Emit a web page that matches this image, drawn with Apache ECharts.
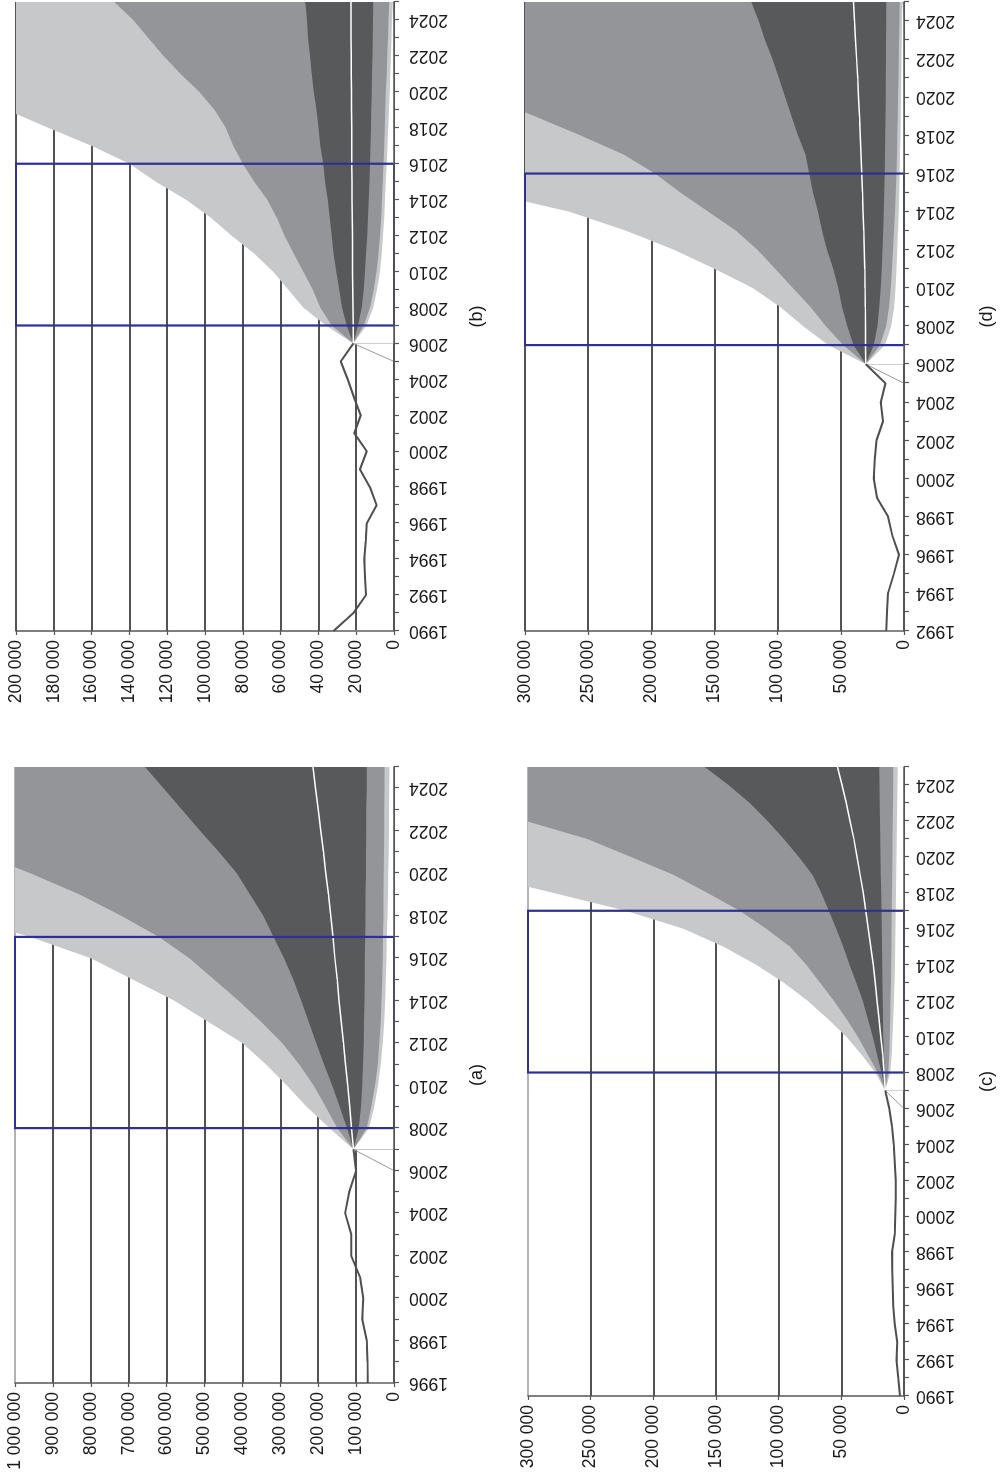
<!DOCTYPE html>
<html><head><meta charset="utf-8">
<script src="https://cdn.jsdelivr.net/npm/echarts@6.0.0/dist/echarts.min.js"></script>
<style>
html,body{margin:0;padding:0;background:#fff;overflow:hidden;width:1006px;height:1477px}
#wrap{position:absolute;left:0;top:0;width:1477px;height:1006px;transform-origin:0 0;transform:translateY(1477px) rotate(-90deg);background:#fff}
</style></head><body><div id="wrap"></div>
<script>
// values in thousands
// ---- Panel (a)
const aHistYears = [1996,1997,1998,1999,2000,2001,2002,2003,2004,2005,2006,2007];
const aHist = [69,70,72,84,81,90,113,113,129,118,100,107];
const aFanYears = [2007,2008,2009,2010,2011,2012,2013,2014,2015,2016,2017,2018,2019,2020,2021,2022,2023,2024,2025];
const aUpper3 = [107,170,230,282,338,400,490,580,690,800,960,1150,1350,1550,1750,1950,2150,2350,2550];
const aUpper2 = [107,150,180,212,250,295,350,410,475,540,620,720,830,960,1100,1250,1400,1550,1700];
const aUpper1 = [107,124,143,163,185,205,225,245,266,290,318,345,380,415,462,512,560,608,657];
const aMedian = [107,112,117,122,128,133,139,145,150,156,161,167,173,180,186,193,200,207,214];
const aLower1 = [107,93,87,84,82,80,79,78,77.5,77,76,75.5,75,74,74,73,73,72,72];
const aLower2 = [107,72,60,50,43,39,35,33,31,30,29,28,27.5,27,26.5,26,25.5,25,25];
const aLower3 = [107,66,52,42,35,30,26,23,21.5,20,19,17,16,15,14,13.5,13,12.5,12];
const aBox = [2008, 2017];
// ---- Panel (b)
const bHistYears = [1990,1991,1992,1993,1994,1995,1996,1997,1998,1999,2000,2001,2002,2003,2004,2005,2006];
const bHist = [32,21.5,14.8,15.3,15.7,15,14.4,9.2,12.7,18,14.4,21,17.6,21.2,24.5,28.2,21.5];
const bFanYears = [2006,2007,2008,2009,2010,2011,2012,2013,2014,2015,2016,2017,2018,2019,2020,2021,2022,2023,2024,2025];
const bUpper3 = [21.5,36,48,56,64,74,86,97,110,126,140,160,183,205,230,255,280,305,330,355];
const bUpper2 = [21.5,33,39,43,48,53,58,62,67,74,80,85,89,95,103,113,122,130,138,148];
const bUpper1 = [21.5,25,27.5,29,30.5,32,33,34,35,36.5,37.5,39,40,41,42.5,43.5,44.5,45.5,46,47];
const bMedian = [21.5,21.6,21.7,21.8,21.9,22,22,22.1,22.2,22.2,22.3,22.4,22.4,22.5,22.5,22.6,22.6,22.7,22.7,22.8];
const bLower1 = [21.5,19,17,16,15.3,14.8,14.2,13.8,13.3,13,12.7,12.4,12.2,12,11.8,11.6,11.4,11.3,11.1,11];
const bLower2 = [21.5,16,12.7,10.7,9.2,8.2,7.4,6.8,6.3,5.9,5.6,5.2,4.9,4.6,4.3,3.9,3.6,3.2,2.9,2.5];
const bLower3 = [21.5,14.5,11,9,7.4,6.5,5.8,5.2,4.7,4.3,3.9,3.5,3.1,2.7,2.3,2,1.6,1.3,1,0.7];
const bBox = [2007, 2016];
// ---- Panel (c)
const cHistYears = [1990,1991,1992,1993,1994,1995,1996,1997,1998,1999,2000,2001,2002,2003,2004,2005,2006,2007];
const cHist = [3.2,4.5,5.9,5.3,7.4,8.5,9,9.3,9.6,7.4,7,6.6,6.6,7.4,8.2,9.6,11.7,15];
const cFanYears = [2007,2008,2009,2010,2011,2012,2013,2014,2015,2016,2017,2018,2019,2020,2021,2022,2023,2024,2025];
const cUpper3 = [15,23,34,46,61,77,96,118,144,176,222,280,340,400,460,520,580,640,700];
const cUpper2 = [15,21,29,37,46,56,67,78,91,110,131,157,184,218,253,302,350,400,450];
const cUpper1 = [15,18,21.5,25,29,33,38,43.5,48.5,54,60,66,73,84,96,109,123,140,159];
const cMedian = [15,16,17,18.5,20,21.5,23,24.5,26.5,28.5,30.5,32.5,35,37.5,40,43,46,49.5,53];
const cLower1 = [15,15.5,16,16.5,16.7,17,17.2,17.4,17.6,17.8,18,18.2,18.5,18.8,19,19.2,19.4,19.6,19.8];
const cLower2 = [15,12.5,11.8,11.3,11,10.7,10.4,10.2,10,9.9,9.8,9.6,9.4,9.2,9.1,8.9,8.8,8.6,8.5];
const cLower3 = [15,11,9.8,9.1,8.5,8,7.6,7.2,7,6.8,6.6,6.4,6.2,6,5.8,5.6,5.4,5.2,5];
const cBox = [2008, 2017];
// ---- Panel (d)
const dHistYears = [1992,1993,1994,1995,1996,1997,1998,1999,2000,2001,2002,2003,2004,2005,2006];
const dHist = [14,13.5,12.6,8,4,9.2,12.6,21.4,24,23.2,21.8,16.6,18.4,14.7,30.3];
const dFanYears = [2006,2007,2008,2009,2010,2011,2012,2013,2014,2015,2016,2017,2018,2019,2020,2021,2022,2023,2024,2025];
const dUpper3 = [30.3,60,80,98,120,150,182,220,265,330,390,450,510,570,630,690,750,810,870,930];
const dUpper2 = [30.3,48,62,74,88,102,116,133,155,177,197,222,256,292,330,370,410,450,490,530];
const dUpper1 = [30.3,40,45,49,52,56,61,65,68,72,75,78,84,89,94,99,104,110,115,121];
const dMedian = [30.3,30.4,30.5,30.6,30.8,31.1,31.5,31.9,32.4,32.9,33.5,34.1,34.7,35.3,36,36.7,37.5,38.3,39.1,40];
const dLower1 = [30.3,24,21,19.5,18.5,17.7,17,16.5,16,15.6,15.3,15.1,14.9,14.7,14.5,14.4,14.3,14.2,14.1,14];
const dLower2 = [30.3,19,14,11.8,10.5,9.5,8.7,8,7.2,6.6,6,5.6,5.3,5,4.7,4.4,4.1,3.9,3.6,3.4];
const dLower3 = [30.3,15,10,7.8,6.8,6,5.3,4.7,4.2,3.8,3.4,3.1,2.8,2.6,2.3,2.1,1.9,1.7,1.5,1.3];
const dBox = [2007, 2016];

const panels = [
  {label:'(a)', grid:{left:94, top:15, width:616, height:379}, xMin:1996, yMax:1000000, yInt:100000, topLine:'#9a9a9a', lm:15,
   histYears:aHistYears, hist:aHist, fanYears:aFanYears, bands:[aUpper3,aUpper2,aUpper1,aLower1,aLower2,aLower3], median:aMedian, box:aBox},
  {label:'(b)', grid:{left:846, top:16, width:629, height:378}, xMin:1990, yMax:200000, yInt:20000, topLine:'#1a1a1a', lm:15,
   histYears:bHistYears, hist:bHist, fanYears:bFanYears, bands:[bUpper3,bUpper2,bUpper1,bLower1,bLower2,bLower3], median:bMedian, box:bBox},
  {label:'(c)', grid:{left:81, top:528, width:629, height:376}, xMin:1990, yMax:300000, yInt:50000, topLine:'#9a9a9a', lm:12,
   histYears:cHistYears, hist:cHist, fanYears:cFanYears, bands:[cUpper3,cUpper2,cUpper1,cLower1,cLower2,cLower3], median:cMedian, box:cBox},
  {label:'(d)', grid:{left:846, top:525, width:629, height:379}, xMin:1992, yMax:300000, yInt:50000, topLine:'#1a1a1a', lm:12,
   histYears:dHistYears, hist:dHist, fanYears:dFanYears, bands:[dUpper3,dUpper2,dUpper1,dLower1,dLower2,dLower3], median:dMedian, box:dBox}
];

const K = 1000;
const bandColors = ['#c7c8ca','#939598','#58595b','#939598','#c7c8ca','#ffffff'];
const FONT = 'Liberation Sans, Arial, Helvetica, sans-serif';
const fmt = v => String(v).replace(/\B(?=(\d{3})+(?!\d))/g, ' ');

const grids = [], xAxes = [], yAxes = [], series = [];
panels.forEach((p, i) => {
  grids.push(Object.assign({outerBoundsMode:'none', containLabel:false}, p.grid));
  xAxes.push({
    type:'value', gridIndex:i, min:p.xMin, max:2025, interval:1, z:10,
    axisLine:{show:true, onZero:false, lineStyle:{color:'#555', width:1.5}},
    axisTick:{show:true, length:5, lineStyle:{color:'#555', width:1.2}},
    splitLine:{show:false},
    axisLabel:{rotate:90, margin:p.lm, fontSize:17.5, fontFamily:FONT, color:'#1a1a1a',
      formatter:v => (v % 2 === 0 ? String(v) : '')},
    name:p.label, nameLocation:'middle', nameGap:74,
    nameTextStyle:{fontSize:18, fontFamily:FONT, color:'#1a1a1a'}
  });
  const nTicks = Math.round(p.yMax / p.yInt) + 1;
  const lineColors = [];
  for (let k = 0; k < nTicks; k++) lineColors.push(k === nTicks - 1 ? p.topLine : '#1a1a1a');
  yAxes.push({
    type:'value', gridIndex:i, min:0, max:p.yMax, interval:p.yInt,
    axisLine:{show:true, lineStyle:{color:'#555', width:1.5}},
    axisTick:{show:true, length:4, lineStyle:{color:'#555', width:1.2}},
    splitLine:{show:true, lineStyle:{color:lineColors, width:1.6}},
    axisLabel:{margin:9, fontSize:17.5, fontFamily:FONT, color:'#1a1a1a', formatter:fmt}
  });
  p.bands.forEach((arr, b) => {
    series.push({
      type:'line', xAxisIndex:i, yAxisIndex:i, symbol:'none', silent:true, clip:true, z:2,
      lineStyle:{width:0, opacity:0},
      areaStyle:{color:bandColors[b], opacity:1},
      data:p.fanYears.map((y, j) => [y, arr[j] * K])
    });
  });
  series.push({
    type:'line', xAxisIndex:i, yAxisIndex:i, symbol:'none', silent:true, z:3,
    lineStyle:{color:'#ffffff', width:1.5},
    data:p.fanYears.map((y, j) => [y, p.median[j] * K])
  });
  // thin lead-in lines at the start of the fan and of the history
  series.push({
    type:'line', xAxisIndex:i, yAxisIndex:i, symbol:'none', silent:true, z:3,
    lineStyle:{color:'#9a9a9a', width:1},
    data:[[p.fanYears[0] - 1, 0], [p.fanYears[0], p.median[0] * K]]
  });
  series.push({
    type:'line', xAxisIndex:i, yAxisIndex:i, symbol:'none', silent:true, z:3,
    lineStyle:{color:'#8a8a8a', width:1.5},
    data:[[p.histYears[0], 0], [p.histYears[0], p.hist[0] * K]]
  });
  series.push({
    type:'line', xAxisIndex:i, yAxisIndex:i, symbol:'none', silent:true, z:4,
    lineStyle:{color:'#4f4f51', width:2},
    data:p.histYears.map((y, j) => [y, p.hist[j] * K]),
    markArea:{silent:true, z:10,
      itemStyle:{color:'rgba(0,0,0,0)', borderColor:'#2e3192', borderWidth:2.2},
      data:[[{coord:[p.box[0], 0]}, {coord:[p.box[1], p.yMax]}]]}
  });
});

const chart = echarts.init(document.getElementById('wrap'), null, {renderer:'canvas'});
chart.setOption({
  animation:false, backgroundColor:'#ffffff',
  grid:grids, xAxis:xAxes, yAxis:yAxes, series:series
});
</script></body></html>
